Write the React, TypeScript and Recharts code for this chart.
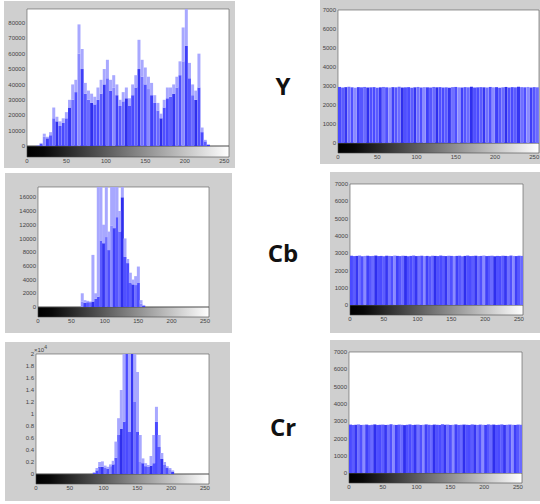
import React from 'react';
import { BarChart, Bar, XAxis, YAxis, Cell, ReferenceArea, CartesianGrid } from 'recharts';

// 64 histogram bins (width 4) over intensity 0..255
const binCenters = [
  2, 6, 10, 14, 18, 22, 26, 30, 34, 38, 42, 46, 50, 54, 58, 62,
  66, 70, 74, 78, 82, 86, 90, 94, 98, 102, 106, 110, 114, 118, 122, 126,
  130, 134, 138, 142, 146, 150, 154, 158, 162, 166, 170, 174, 178, 182, 186, 190,
  194, 198, 202, 206, 210, 214, 218, 222, 226, 230, 234, 238, 242, 246, 250, 254,
];
const xTicks = [0, 50, 100, 150, 200, 250];

// Y (original) histogram
const yPeak = [
  0, 0, 0, 500, 2000, 8000, 6000, 9000,
  25000, 19000, 16000, 18000, 22000, 30000, 40000, 43000,
  79000, 63000, 41000, 36000, 34000, 32000, 38000, 43000,
  50000, 56000, 43000, 46000, 40000, 30000, 35000, 38000,
  31000, 40000, 46000, 69000, 56000, 51000, 45000, 41000,
  33000, 28000, 21000, 30000, 38000, 38000, 40000, 45000,
  55000, 77000, 89000, 54000, 40000, 36000, 60000, 12000,
  4000, 1000, 0, 0, 0, 0, 0, 0,
];
const yCore = [
  0, 0, 0, 300, 1500, 6000, 5000, 7000,
  18000, 16000, 13000, 15000, 18000, 25000, 30000, 35000,
  60000, 50000, 34000, 30000, 28000, 27000, 30000, 34000,
  40000, 44000, 36000, 38000, 33000, 26000, 29000, 31000,
  26000, 33000, 38000, 50000, 45000, 40000, 37000, 33000,
  28000, 23000, 18000, 25000, 31000, 32000, 34000, 38000,
  46000, 55000, 65000, 44000, 33000, 30000, 38000, 9000,
  3000, 800, 0, 0, 0, 0, 0, 0,
];
const yTicksY = [0, 10000, 20000, 30000, 40000, 50000, 60000, 70000, 80000];

// Cb (original) histogram
const cbPeak = [
  0, 0, 0, 0, 0, 0, 0, 0, 0, 0, 0, 0, 0, 0, 0, 0,
  2000, 1000, 900, 800, 7600, 2000, 17500, 17500,
  12000, 17500, 11000, 17500, 17500, 17500, 14000, 17500,
  10000, 7000, 5000, 4000, 4500, 5900, 1000, 300,
  0, 0, 0, 0, 0, 0, 0, 0, 0, 0, 0, 0, 0, 0, 0, 0,
  0, 0, 0, 0, 0, 0, 0, 0,
];
const cbCore = [
  0, 0, 0, 0, 0, 0, 0, 0, 0, 0, 0, 0, 0, 0, 0, 0,
  800, 600, 700, 700, 800, 1200, 1500, 9700,
  9300, 10200, 8300, 11900, 11500, 13100, 11000, 16000,
  7300, 6400, 3500, 3300, 3200, 3500, 500, 200,
  0, 0, 0, 0, 0, 0, 0, 0, 0, 0, 0, 0, 0, 0, 0, 0,
  0, 0, 0, 0, 0, 0, 0, 0,
];
const yTicksCb = [0, 2000, 4000, 6000, 8000, 10000, 12000, 14000, 16000];

// Cr (original) histogram
const crPeak = [
  0, 0, 0, 0, 0, 0, 0, 0, 0, 0, 0, 0, 0, 0, 0, 0,
  0, 0, 0, 0, 0, 300, 1000, 2000,
  2100, 1400, 1200, 1600, 2200, 5400, 9300, 14000,
  20000, 20000, 20000, 20000, 20000, 17000, 6500, 2600,
  1800, 1500, 3000, 6500, 11200, 6500, 3500, 2000,
  1300, 1000, 600, 0, 0, 0, 0, 0,
  0, 0, 0, 0, 0, 0, 0, 0,
];
const crCore = [
  0, 0, 0, 0, 0, 0, 0, 0, 0, 0, 0, 0, 0, 0, 0, 0,
  0, 0, 0, 0, 0, 200, 600, 1200,
  1200, 1100, 900, 1300, 1600, 2700, 6500, 7500,
  8700, 20000, 7000, 20000, 12000, 7000, 2000, 1800,
  1300, 1200, 1400, 1800, 8700, 4500, 2500, 1500,
  1000, 800, 400, 0, 0, 0, 0, 0,
  0, 0, 0, 0, 0, 0, 0, 0,
];
const yTicksCr = [0, 2000, 4000, 6000, 8000, 10000, 12000, 14000, 16000, 18000, 20000];

// Encrypted (flat) histograms
const yEnc = [
  2950, 2920, 2940, 2960, 2930, 2910, 2940, 2930,
  2950, 2920, 2930, 2940, 2910, 2930, 2950, 2930,
  2920, 2940, 2930, 2960, 2920, 2930, 2940, 2910,
  2930, 2950, 2920, 2940, 2930, 2920, 2950, 2930,
  2940, 2920, 2930, 2910, 2940, 2950, 2930, 2920,
  2940, 2930, 2960, 2920, 2930, 2940, 2930, 2920,
  2950, 2930, 2940, 2910, 2930, 2950, 2920, 2940,
  2930, 2960, 2940, 2930, 2950, 2920, 2940, 2930,
];
const cbEnc = [
  2850, 2830, 2840, 2860, 2820, 2840, 2850, 2830,
  2840, 2860, 2830, 2840, 2820, 2850, 2840, 2830,
  2860, 2840, 2830, 2850, 2840, 2820, 2840, 2860,
  2830, 2840, 2850, 2830, 2840, 2820, 2850, 2840,
  2830, 2860, 2840, 2830, 2850, 2840, 2830, 2840,
  2850, 2820, 2840, 2860, 2830, 2840, 2850, 2830,
  2840, 2860, 2830, 2840, 2850, 2820, 2840, 2830,
  2850, 2840, 2830, 2860, 2840, 2830, 2850, 2840,
];
const crEnc = [
  2800, 2780, 2790, 2810, 2780, 2790, 2800, 2770,
  2790, 2810, 2780, 2790, 2800, 2780, 2790, 2820,
  2790, 2780, 2800, 2790, 2770, 2790, 2810, 2780,
  2790, 2800, 2780, 2790, 2810, 2790, 2780, 2800,
  2790, 2780, 2820, 2790, 2800, 2780, 2790, 2810,
  2780, 2790, 2800, 2790, 2780, 2810, 2790, 2780,
  2800, 2790, 2780, 2810, 2790, 2800, 2780, 2790,
  2810, 2780, 2790, 2800, 2790, 2780, 2800, 2790,
];
const yTicksEnc = [0, 1000, 2000, 3000, 4000, 5000, 6000, 7000];

const rowLabels = ['Y', 'Cb', 'Cr'];

const SHADES = ['#4a4aff', '#5c5cff', '#3636f2', '#7070ff', '#4f4fff', '#8a8aff', '#3f3ff8', '#5656ff', '#6a6aff', '#2f2fee', '#5050ff'];
const LIGHT = '#a8a8ff';
const TICK = { fontSize: 6, fill: '#444', fontFamily: 'Liberation Sans, Arial, sans-serif' };

type Frame = { l: number; t: number; w: number; h: number };
type Plot = { left: number; right: number; top: number; base: number; grad: number };

function Panel(props: {
  id: string; frame: Frame; plot: Plot; core: number[]; peak?: number[];
  yMax: number; yTicks: number[]; fmt?: (v: number) => string;
}) {
  const { id, frame, plot, core, peak, yMax, yTicks, fmt } = props;
  const data = binCenters.map((b, i) => ({
    bin: b,
    core: core[i],
    extra: peak ? Math.max(0, peak[i] - core[i]) : 0,
  }));
  const g = (yMax * (plot.grad - plot.base)) / (plot.base - plot.top);
  return (
    <div style={{ position: 'absolute', left: frame.l, top: frame.t, width: frame.w, height: frame.h, background: '#cfcfcf' }}>
      <BarChart
        width={frame.w}
        height={frame.h}
        data={data}
        margin={{ top: plot.top - frame.t, right: frame.l + frame.w - plot.right, bottom: 0, left: 0 }}
        barCategoryGap={0}
        barGap={0}
        style={{ overflow: 'visible' }}
      >
        <defs>
          <linearGradient id={`grad${id}`} x1="0" y1="0" x2="1" y2="0">
            <stop offset="0" stopColor="#000" />
            <stop offset="0.08" stopColor="#080808" />
            <stop offset="1" stopColor="#ffffff" />
          </linearGradient>
        </defs>
        <CartesianGrid horizontal={false} vertical={false} fill="#ffffff" fillOpacity={1} />
        <XAxis
          type="number"
          dataKey="bin"
          domain={[0, 256]}
          ticks={xTicks}
          interval={0}
          allowDataOverflow
          height={frame.t + frame.h - plot.grad}
          tickLine={false}
          tickSize={0}
          axisLine={false}
          tickMargin={2}
          tick={TICK}
        />
        <YAxis
          type="number"
          domain={[-g, yMax]}
          ticks={yTicks}
          interval={0}
          allowDataOverflow
          width={plot.left - frame.l}
          tickLine={false}
          tickSize={0}
          axisLine={false}
          tickMargin={2}
          tick={TICK}
          tickFormatter={fmt}
        />
        <ReferenceArea x1={0} x2={256} y1={-g} y2={0} fill={`url(#grad${id})`} fillOpacity={1} stroke="#444" strokeWidth={0.6} />
        <Bar dataKey="core" stackId="s" isAnimationActive={false}>
          {data.map((d, i) => (
            <Cell key={i} fill={SHADES[i % SHADES.length]} />
          ))}
        </Bar>
        <Bar dataKey="extra" stackId="s" fill={LIGHT} isAnimationActive={false} />
        <ReferenceArea x1={0} x2={256} y1={0} y2={yMax} fill="none" fillOpacity={0} stroke="#555" strokeWidth={0.6} />
      </BarChart>
    </div>
  );
}

const labelStyle = (top: number): React.CSSProperties => ({
  position: 'absolute', left: 253, top, width: 60, textAlign: 'center',
  fontFamily: '"Open Sans", sans-serif', fontWeight: 700, fontSize: 24, lineHeight: '24px', color: '#111',
});

export default function App() {
  return (
    <div style={{ position: 'absolute', left: 0, top: 0, width: 540, height: 504, background: '#fff', overflow: 'hidden' }}>
      <Panel id="yo" frame={{ l: 4, t: 1, w: 231, h: 167 }} plot={{ left: 27, right: 229, top: 9, base: 146, grad: 157 }}
        core={yCore} peak={yPeak} yMax={89000} yTicks={yTicksY} />
      <Panel id="ye" frame={{ l: 320, t: 0, w: 220, h: 164 }} plot={{ left: 338, right: 539, top: 10, base: 143, grad: 153 }}
        core={yEnc} yMax={7000} yTicks={yTicksEnc} />
      <Panel id="cbo" frame={{ l: 5, t: 173, w: 227, h: 160 }} plot={{ left: 38, right: 209, top: 187, base: 307, grad: 317 }}
        core={cbCore} peak={cbPeak} yMax={17500} yTicks={yTicksCb} />
      <Panel id="cbe" frame={{ l: 330, t: 172, w: 210, h: 161 }} plot={{ left: 350, right: 523, top: 184, base: 305, grad: 315 }}
        core={cbEnc} yMax={7000} yTicks={yTicksEnc} />
      <Panel id="cro" frame={{ l: 5, t: 342, w: 225, h: 159 }} plot={{ left: 36, right: 209, top: 354, base: 474, grad: 484 }}
        core={crCore} peak={crPeak} yMax={20000} yTicks={yTicksCr} fmt={(v: number) => String(v / 10000)} />
      <Panel id="cre" frame={{ l: 330, t: 340, w: 210, h: 161 }} plot={{ left: 349, right: 522, top: 352, base: 473, grad: 483 }}
        core={crEnc} yMax={7000} yTicks={yTicksEnc} />
      <div style={{ position: 'absolute', left: 34, top: 344, fontSize: 6, fontFamily: 'Liberation Sans, Arial, sans-serif', color: '#444' }}>
        ×10<sup style={{ fontSize: 5 }}>4</sup>
      </div>
      <div style={labelStyle(74)}>{rowLabels[0]}</div>
      <div style={labelStyle(241)}>{rowLabels[1]}</div>
      <div style={labelStyle(415)}>{rowLabels[2]}</div>
    </div>
  );
}
